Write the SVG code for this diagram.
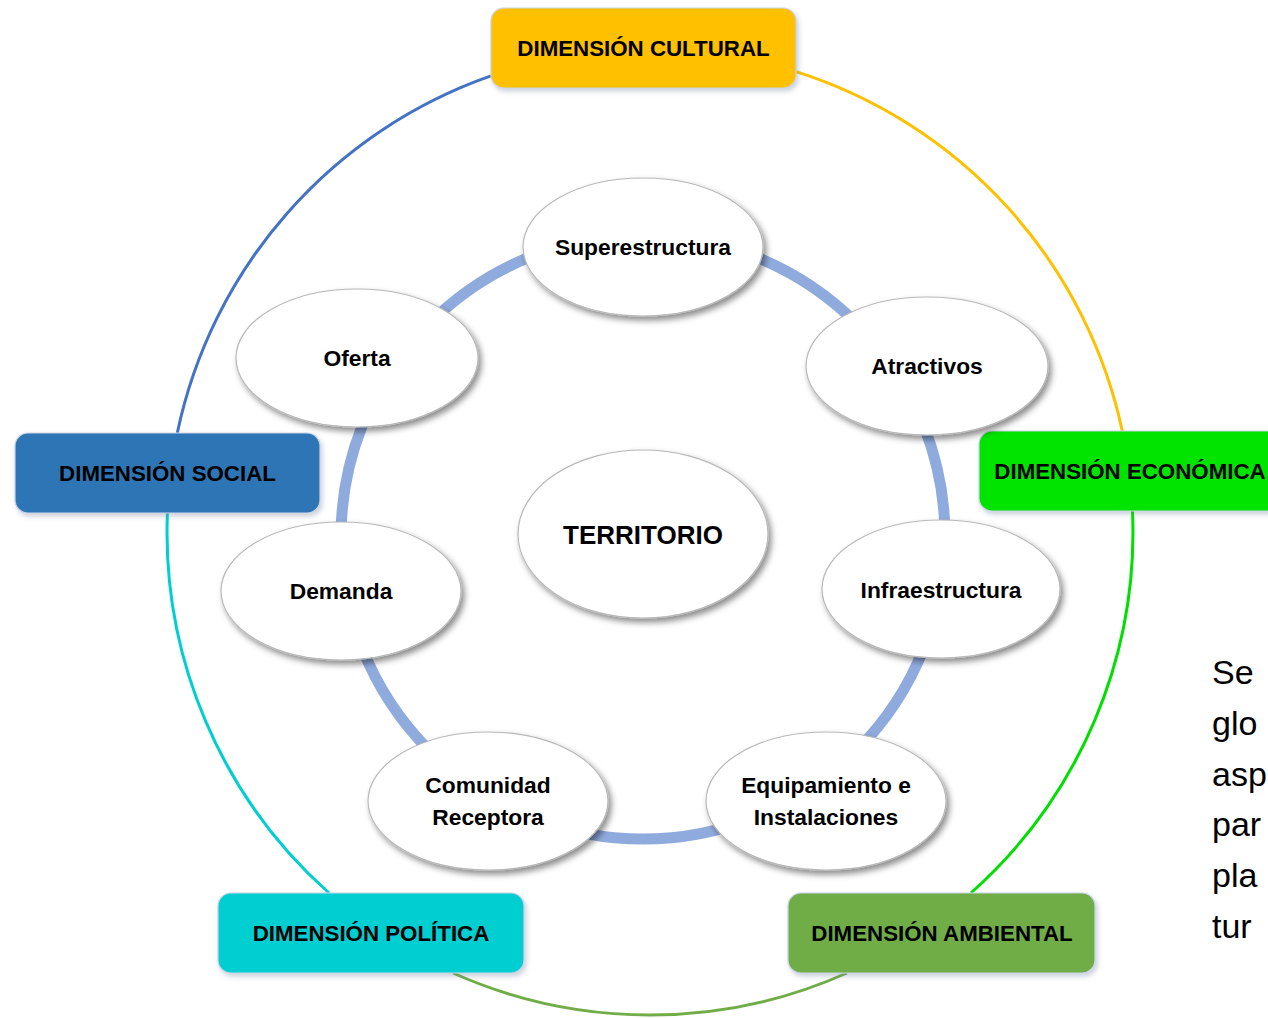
<svg xmlns="http://www.w3.org/2000/svg" width="1268" height="1018" viewBox="0 0 1268 1018">
<defs>
<filter id="sh" x="-20%" y="-20%" width="150%" height="150%">
<feDropShadow dx="3" dy="4" stdDeviation="3" flood-color="#000" flood-opacity="0.45"/>
</filter>
<filter id="bsh" x="-10%" y="-20%" width="130%" height="160%">
<feDropShadow dx="2" dy="3" stdDeviation="2.5" flood-color="#6a7a99" flood-opacity="0.35"/>
</filter>
<style>
.box{stroke:#c9d3e6;stroke-width:1.2;filter:url(#bsh)}
.bt{font-family:"Liberation Sans",Arial,sans-serif;font-weight:bold;font-size:22.3px;fill:#000;text-anchor:middle}
.el{fill:#fff;stroke:#b8b8b8;stroke-width:1.2;filter:url(#sh)}
.et{font-family:"Liberation Sans",Arial,sans-serif;font-weight:bold;font-size:22.8px;fill:#000;text-anchor:middle}
.arc{fill:none;stroke-width:3}
.hw{font-family:"Liberation Sans",Arial,sans-serif;font-size:34px;fill:#000}
</style>
</defs>
<rect width="1268" height="1018" fill="#fff"/>
<g id="connectors">
<path class="arc" stroke="#4472C4" d="M 177.3 433 A 483 483 0 0 1 491 75.9"/>
<path class="arc" stroke="#FFC000" d="M 796 71.6 A 483 483 0 0 1 1122.3 431"/>
<path class="arc" stroke="#00E000" d="M 1132.5 511 A 483 483 0 0 1 970.9 893"/>
<path class="arc" stroke="#70AD47" d="M 847 973 A 483 483 0 0 1 453 973"/>
<path class="arc" stroke="#00CED1" d="M 329.1 893 A 483 483 0 0 1 167.4 513"/>
<circle cx="643" cy="537" r="302" fill="none" stroke="#8FAADC" stroke-width="11"/>
</g>
<g id="dim-cultural"><rect class="box" x="491" y="8" width="305" height="80" rx="13" fill="#FFC000"/><text class="bt" x="643.5" y="56">DIMENSIÓN CULTURAL</text></g>
<g id="dim-social"><rect class="box" x="15" y="433" width="305" height="80" rx="13" fill="#2E75B6"/><text class="bt" x="167.5" y="481">DIMENSIÓN SOCIAL</text></g>
<g id="dim-economica"><rect class="box" x="979" y="431" width="305" height="80" rx="13" fill="#00E400"/><text class="bt" x="1130" y="479">DIMENSIÓN ECONÓMICA</text></g>
<g id="dim-ambiental"><rect class="box" x="788" y="893" width="307" height="80" rx="13" fill="#70AD47"/><text class="bt" x="942" y="941">DIMENSIÓN AMBIENTAL</text></g>
<g id="dim-politica"><rect class="box" x="218" y="893" width="306" height="80" rx="13" fill="#00CED1"/><text class="bt" x="371" y="941">DIMENSIÓN POLÍTICA</text></g>
<g id="superestructura"><ellipse class="el" cx="643" cy="247" rx="120" ry="69"/><text class="et" x="643" y="255">Superestructura</text></g>
<g id="oferta"><ellipse class="el" cx="357" cy="358" rx="121" ry="69"/><text class="et" x="357" y="366">Oferta</text></g>
<g id="atractivos"><ellipse class="el" cx="927" cy="366" rx="121" ry="69"/><text class="et" x="927" y="374">Atractivos</text></g>
<g id="territorio"><ellipse class="el" cx="643" cy="534" rx="125" ry="84"/><text class="et" x="643" y="544" style="font-size:26px">TERRITORIO</text></g>
<g id="demanda"><ellipse class="el" cx="341" cy="591" rx="120" ry="69"/><text class="et" x="341" y="599">Demanda</text></g>
<g id="infraestructura"><ellipse class="el" cx="941" cy="589" rx="119" ry="69"/><text class="et" x="941" y="598">Infraestructura</text></g>
<g id="comunidad"><ellipse class="el" cx="488" cy="801" rx="120" ry="69"/><text class="et" x="488" y="793">Comunidad</text><text class="et" x="488" y="825">Receptora</text></g>
<g id="equipamiento"><ellipse class="el" cx="826" cy="801" rx="120" ry="69"/><text class="et" x="826" y="793">Equipamiento e</text><text class="et" x="826" y="825">Instalaciones</text></g>
<g id="note">
<text class="hw" x="1212" y="684">Se</text>
<text class="hw" x="1212" y="735">glo</text>
<text class="hw" x="1212" y="786">asp</text>
<text class="hw" x="1212" y="836">par</text>
<text class="hw" x="1212" y="887">pla</text>
<text class="hw" x="1212" y="938">tur</text>
</g>
</svg>
